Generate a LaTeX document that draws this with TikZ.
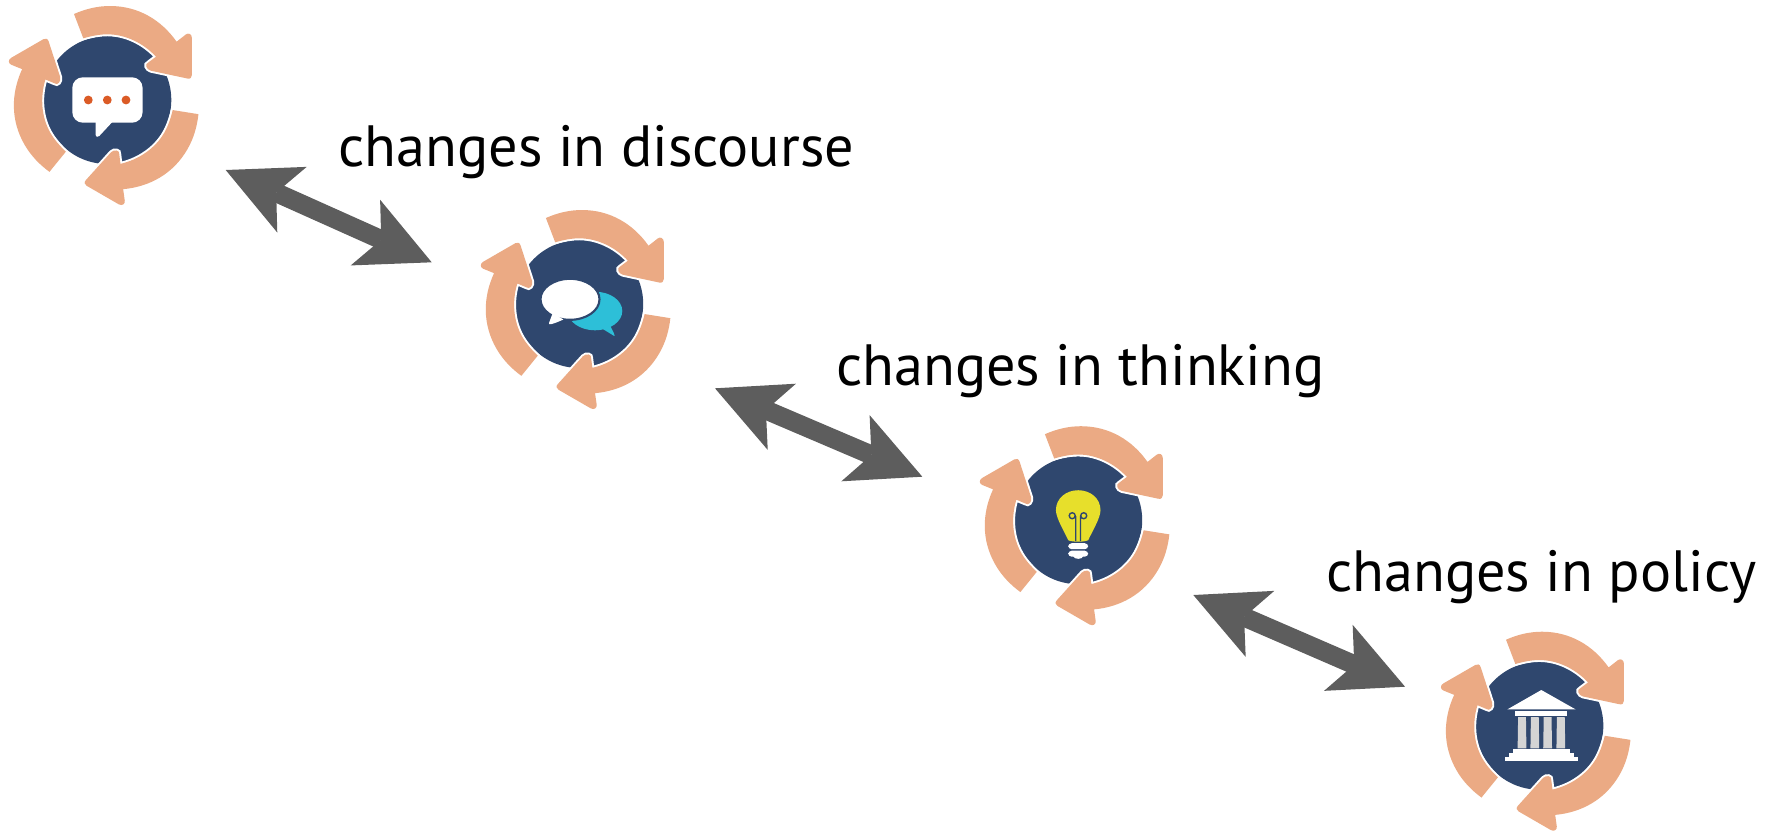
\documentclass[tikz,border=0pt]{standalone}
\usepackage{fontspec}
\setmainfont{PT Sans}
\usepackage{tikz}
\usetikzlibrary{arrows.meta}

\definecolor{peach}{HTML}{EBAA84}
\definecolor{navy}{HTML}{2F476E}
\definecolor{shaft}{HTML}{5D5D5D}
\definecolor{bubble}{HTML}{2DBFD8}
\definecolor{bulb}{HTML}{E7DF2B}
\definecolor{dots}{HTML}{DB5B26}
\definecolor{pillar}{HTML}{D4D4D4}

\tikzset{
    caption/.style={font=\fontsize{16.55pt}{20pt}\selectfont, anchor=base west, inner sep=0pt},
    biarrow/.style={draw=shaft, line width=1.9mm,
        {Stealth[length=7.26mm,width=7.19mm,inset=1.73mm,line width=0pt]}-{Stealth[length=7.26mm,width=7.19mm,inset=1.73mm,line width=0pt]}},
    swirl/.style={fill=peach, preaction={draw=white, line width=1.1pt}},
    ring/.pic={
        \fill[navy] (0,0) circle (64);
        \foreach \ang in {0,-120,-240}{
            \path[swirl, rotate=\ang] (-33.3,-86) .. controls (-22,-91) and (-10,-94) .. (2.7,-94)
                .. controls (31,-94) and (54,-80) .. (69.3,-58.3)
                -- (78.5,-65.5) .. controls (81,-67.5) and (84.6,-66) .. (84.6,-62)
                -- (84.6,-25) .. controls (84.6,-22.5) and (83,-20.8) .. (80,-21.5)
                -- (43.5,-29.3) .. controls (39,-30.5) and (37,-36) .. (41,-37.5)
                -- (48.7,-43.3) .. controls (36,-57) and (18,-65.7) .. (0,-65.7)
                .. controls (-8,-65.7) and (-16,-64) .. (-24,-61.7) -- cycle;
        }
    }
}

\begin{document}
\begin{tikzpicture}[x=0.01cm,y=-0.01cm]
\useasboundingbox (0,0) rectangle (1777,830);

\coordinate (discourse) at (107.3,100);
\coordinate (talk) at (579.2,304);
\coordinate (idea) at (1078.2,520.2);
\coordinate (policy) at (1539.3,725.7);

\coordinate (A) at (225.7,170);
\coordinate (B) at (431.7,262.3);
\coordinate (C) at (715,388.3);
\coordinate (D) at (922.3,476.7);
\coordinate (E) at (1193.3,595);
\coordinate (F) at (1405,686.7);

\pic at (discourse) {ring};
\pic at (talk) {ring};
\pic at (idea) {ring};
\pic at (policy) {ring};

\path [biarrow] (A) -- (B);
\path [biarrow] (C) -- (D);
\path [biarrow] (E) -- (F);

\node[caption] (discourselabel) at (338,166.7) {changes in discourse};
\node[caption] (thinkinglabel) at (835.5,385) {changes in thinking};
\node[caption] (policylabel) at (1325.5,591) {changes in policy};

% speech bubble
\begin{scope}[shift={(discourse)}]
    \fill[white, rounded corners=3pt] (-35,-22.7) rectangle (35.3,22.7);
    \fill[white] (-11.7,22) -- (-11.7,35) .. controls (-11.7,37) and (-9.5,37.5) .. (-8,36) -- (5,22) -- cycle;
    \foreach \x in {-19,0,18.7}
        \fill[dots] (\x,0) circle (4.4);
\end{scope}

% two bubbles
\begin{scope}[shift={(talk)}]
    \fill[bubble] (15.8,7) ellipse (27.3 and 19.3);
    \fill[bubble] (22,24) -- (35,32) .. controls (36,32.5) and (35.5,30) .. (30,20) -- cycle;
    \fill[white, draw=navy, line width=0.6pt] (-9.2,-4.7) ellipse (29.5 and 20.5);
    \fill[white] (-26.5,9) -- (-30.2,19) .. controls (-31,21) and (-28,21) .. (-15.8,15.5) -- cycle;
\end{scope}

% lamp
\begin{scope}[shift={(idea)}]
    \fill[bulb] (-10,20) .. controls (-13,13) and (-22.3,-2) .. (-22.3,-10)
        .. controls (-22.3,-22) and (-12,-30) .. (0,-30)
        .. controls (12,-30) and (22.3,-22) .. (22.3,-10)
        .. controls (22.3,-2) and (13,13) .. (10,20)
        .. controls (6,22) and (-6,22) .. (-10,20) -- cycle;
    \draw[navy, line width=0.4pt] (-2.5,21) -- (-2.5,-4) (2.3,21) -- (2.3,-4)
        (-6,-4.5) circle (3) (5.5,-4.5) circle (3);
    \fill[white, rounded corners=1pt] (-10,23) rectangle (10,29);
    \fill[white, rounded corners=1pt] (-10,30.5) rectangle (10,36.5);
    \fill[white] (-5,36) -- (5,36) .. controls (4,39.5) and (-4,39.5) .. (-5,36) -- cycle;
\end{scope}

% temple
\begin{scope}[shift={(policy)}]
    \fill[white] (-32,-16.3) -- (2,-35.7) -- (36.3,-16.3) -- cycle;
    \fill[white] (-24.3,-14.7) rectangle (27.3,-9.7);
    \foreach \x in {-17.3,-4.5,8.3,21.5}
        \fill[pillar] (\x-3.9,-8.7) -- (\x+3.9,-8.7) -- (\x+4.4,22.7) -- (\x-4.4,22.7) -- cycle;
    \fill[white] (-26.7,23.7) rectangle (30.7,27.9);
    \fill[white] (-30.7,27.7) rectangle (34.7,31.9);
    \fill[white] (-34.3,31.7) rectangle (38.3,35);
\end{scope}
\end{tikzpicture}
\end{document}
